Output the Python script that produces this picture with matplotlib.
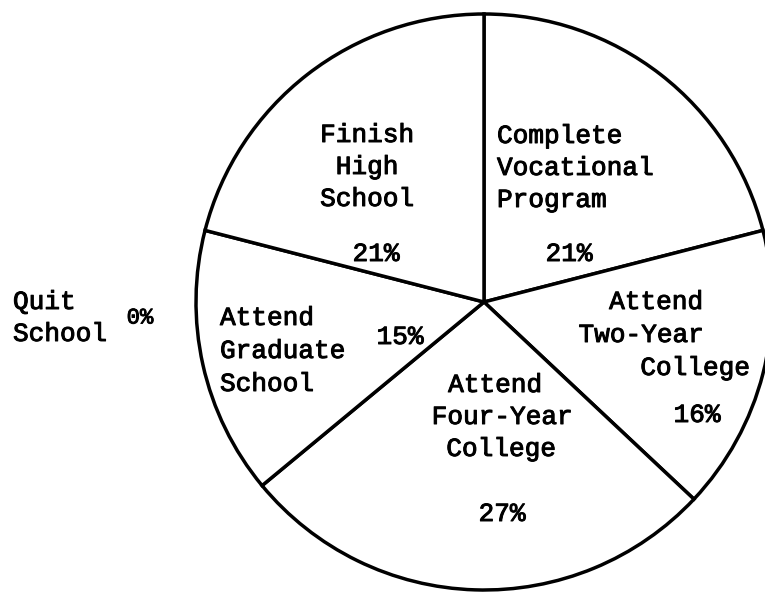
import matplotlib.pyplot as plt
import matplotlib.patheffects as pe

# pie slices, clockwise from 12 o'clock
categories = ['Complete\nVocational\nProgram', 'Attend\nTwo-Year\nCollege',
              'Attend\nFour-Year\nCollege', 'Attend\nGraduate\nSchool',
              'Finish\nHigh\nSchool']
percents = [21, 16, 27, 15, 21]
pct_labels = ['21%', '16%', '27%', '15%', '21%']

# category with no slice, written outside the circle
other_label = 'Quit\nSchool'
other_pct = '0%'

W, H = 765, 596
fig = plt.figure(figsize=(W / 100, H / 100), dpi=100)
ax = fig.add_axes([0, 0, 1, 1])

# pixel layout (y measured from top of image)
cx, cy, r = 484, 302, 288
ax.pie(percents, startangle=90, counterclock=False, center=(cx, H - cy), radius=r,
       wedgeprops=dict(facecolor='white', edgecolor='black', linewidth=2.5))
ax.set_xlim(0, W)
ax.set_ylim(0, H)
ax.set_aspect('equal')
ax.axis('off')

# typewriter look: mono font, slightly thickened strokes
ink = [pe.withStroke(linewidth=0.7, foreground='black')]
font = dict(family='Liberation Mono', fontsize=18.8, color='black', path_effects=ink)

# per label: x of each line, y of each line, alignment
label_pos = [
    ([497, 497, 497], [136, 168, 200], 'left'),
    ([656, 641, 695], [302, 335, 368], 'center'),
    ([495, 502, 501], [385, 417, 449], 'center'),
    ([220, 220, 220], [318, 351, 384], 'left'),
    ([367, 367, 367], [135, 167, 199], 'center'),
]
pct_pos = [(569, 254), (697, 415), (502, 514), (400, 337), (376, 254)]

for lab, (xs, ys, ha) in zip(categories, label_pos):
    for line, x, y in zip(lab.split('\n'), xs, ys):
        ax.text(x, H - y, line, ha=ha, va='center', **font)

for p, (x, y) in zip(pct_labels, pct_pos):
    ax.text(x, H - y, p, ha='center', va='center', **font)

for line, y in zip(other_label.split('\n'), [302, 334]):
    ax.text(13, H - y, line, ha='left', va='center', **font)
ax.text(140, H - 318, other_pct, ha='center', va='center',
        family='Liberation Mono', fontsize=16, color='black', path_effects=ink)

plt.savefig('out.png', dpi=100, facecolor='white')
